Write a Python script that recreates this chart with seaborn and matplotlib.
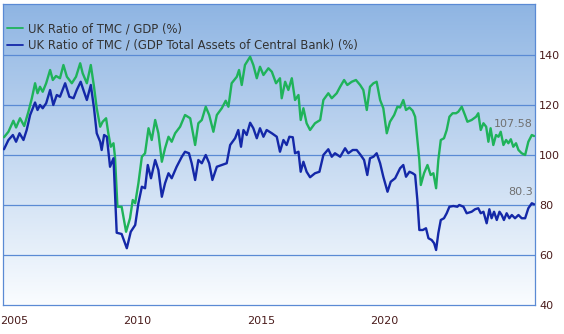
import numpy as np
import pandas as pd
import matplotlib
matplotlib.use("Agg")
import matplotlib.pyplot as plt
import seaborn as sns

# ---- data ----
green_year = [2004.59, 2004.77, 2004.97, 2005.08, 2005.24, 2005.41, 2005.58, 2005.72, 2005.85, 2005.95,
              2006.05, 2006.16, 2006.30, 2006.46, 2006.57, 2006.70, 2006.86, 2007.00, 2007.14, 2007.34,
              2007.51, 2007.68, 2007.78, 2007.95, 2008.11, 2008.24, 2008.35, 2008.49, 2008.59, 2008.73,
              2008.82, 2008.92, 2009.03, 2009.09, 2009.19, 2009.36, 2009.54, 2009.70, 2009.81, 2009.91,
              2010.04, 2010.18, 2010.31, 2010.45, 2010.58, 2010.72, 2010.85, 2010.99, 2011.12, 2011.26,
              2011.39, 2011.53, 2011.73, 2011.93, 2012.14, 2012.34, 2012.47, 2012.61, 2012.77, 2012.91,
              2013.08, 2013.22, 2013.42, 2013.58, 2013.69, 2013.82, 2014.03, 2014.12, 2014.23, 2014.36,
              2014.57, 2014.70, 2014.84, 2014.97, 2015.11, 2015.31, 2015.45, 2015.62, 2015.78, 2015.85,
              2015.99, 2016.12, 2016.26, 2016.39, 2016.53, 2016.62, 2016.73, 2016.86, 2017.00, 2017.20,
              2017.41, 2017.54, 2017.74, 2017.88, 2018.08, 2018.22, 2018.38, 2018.51, 2018.69, 2018.86,
              2019.03, 2019.16, 2019.30, 2019.43, 2019.57, 2019.70, 2019.84, 2019.97, 2020.11, 2020.24,
              2020.41, 2020.54, 2020.65, 2020.78, 2020.89, 2021.03, 2021.16, 2021.26, 2021.35, 2021.43,
              2021.49, 2021.62, 2021.76, 2021.89, 2022.00, 2022.11, 2022.20, 2022.30, 2022.43, 2022.54,
              2022.65, 2022.78, 2022.92, 2023.01, 2023.15, 2023.28, 2023.38, 2023.55, 2023.73, 2023.82,
              2023.92, 2024.03, 2024.14, 2024.23, 2024.32, 2024.43, 2024.54, 2024.64, 2024.73, 2024.84,
              2024.95, 2025.04, 2025.14, 2025.24, 2025.35, 2025.45, 2025.58, 2025.72, 2025.85, 2025.99,
              2026.08]
green_val = [107.1, 109.3, 113.7, 111.0, 114.7, 111.6, 117.3, 122.7, 128.7, 124.7,
             127.3, 125.3, 128.7, 134.0, 130.0, 131.6, 130.7, 136.0, 131.3, 128.7,
             131.3, 136.7, 132.7, 128.7, 136.0, 127.3, 118.7, 111.3, 113.3, 114.7,
             108.7, 103.3, 104.7, 99.3, 79.3, 79.3, 69.3, 74.7, 82.0, 80.7,
             88.7, 99.3, 100.7, 110.7, 106.0, 114.0, 108.7, 97.3, 102.7, 107.3,
             105.3, 108.7, 111.3, 116.0, 114.7, 104.0, 112.7, 114.0, 119.3, 116.0,
             109.3, 116.0, 118.7, 121.7, 119.3, 128.7, 131.3, 134.0, 128.0, 136.0,
             139.3, 136.0, 130.7, 135.3, 132.0, 134.7, 133.3, 128.7, 130.7, 122.7,
             129.3, 126.0, 130.7, 122.0, 124.0, 114.0, 118.7, 112.7, 110.0, 112.7,
             114.0, 122.0, 124.7, 122.7, 124.7, 127.3, 130.0, 128.0, 129.3, 130.0,
             128.0, 126.0, 118.0, 127.3, 128.7, 129.3, 122.0, 118.7, 108.7, 113.3,
             116.0, 119.3, 119.0, 122.0, 118.0, 119.0, 117.7, 115.3, 106.0, 98.0,
             88.0, 92.7, 96.0, 92.0, 92.7, 86.7, 98.0, 106.0, 106.7, 110.0,
             115.3, 116.7, 116.7, 117.3, 119.3, 116.0, 113.3, 114.0, 115.3, 116.7,
             110.0, 112.7, 111.3, 105.3, 110.7, 104.0, 108.0, 107.3, 109.3, 104.0,
             106.0, 104.7, 106.3, 103.3, 104.7, 102.0, 100.7, 100.0, 105.3, 108.0,
             107.58]

blue_year = [2004.59, 2004.77, 2004.95, 2005.08, 2005.22, 2005.38, 2005.51, 2005.65, 2005.85, 2005.95,
             2006.05, 2006.16, 2006.30, 2006.46, 2006.59, 2006.73, 2006.86, 2007.07, 2007.24, 2007.41,
             2007.54, 2007.70, 2007.81, 2007.95, 2008.11, 2008.24, 2008.35, 2008.49, 2008.55, 2008.65,
             2008.76, 2008.89, 2009.03, 2009.16, 2009.36, 2009.57, 2009.73, 2009.91, 2010.04, 2010.18,
             2010.31, 2010.42, 2010.55, 2010.72, 2010.85, 2010.99, 2011.12, 2011.26, 2011.39, 2011.59,
             2011.80, 2011.93, 2012.09, 2012.20, 2012.34, 2012.47, 2012.61, 2012.77, 2012.91, 2013.04,
             2013.22, 2013.42, 2013.62, 2013.76, 2013.96, 2014.09, 2014.20, 2014.30, 2014.43, 2014.57,
             2014.70, 2014.84, 2014.97, 2015.11, 2015.24, 2015.45, 2015.65, 2015.78, 2015.92, 2016.05,
             2016.16, 2016.30, 2016.39, 2016.53, 2016.62, 2016.73, 2016.86, 2017.00, 2017.20, 2017.38,
             2017.54, 2017.74, 2017.88, 2018.01, 2018.22, 2018.42, 2018.55, 2018.73, 2018.89, 2019.05,
             2019.19, 2019.32, 2019.43, 2019.57, 2019.70, 2019.84, 2019.97, 2020.14, 2020.27, 2020.45,
             2020.58, 2020.65, 2020.78, 2020.89, 2021.03, 2021.16, 2021.26, 2021.35, 2021.43, 2021.57,
             2021.70, 2021.80, 2021.93, 2022.03, 2022.11, 2022.20, 2022.30, 2022.43, 2022.54, 2022.65,
             2022.81, 2022.97, 2023.05, 2023.22, 2023.35, 2023.55, 2023.69, 2023.82, 2023.92, 2024.03,
             2024.16, 2024.27, 2024.36, 2024.46, 2024.57, 2024.68, 2024.77, 2024.86, 2024.97, 2025.08,
             2025.18, 2025.31, 2025.45, 2025.58, 2025.72, 2025.85, 2025.99, 2026.08]
blue_val = [102.3, 106.0, 108.0, 105.3, 108.7, 106.0, 110.0, 116.0, 121.0, 118.0,
            120.0, 118.7, 120.7, 126.0, 120.0, 124.0, 123.3, 128.7, 123.3, 122.7,
            126.0, 129.3, 126.0, 122.0, 128.0, 118.7, 108.7, 105.3, 102.0, 108.0,
            107.3, 95.3, 98.7, 68.9, 68.4, 62.7, 69.3, 72.0, 80.7, 87.3,
            86.7, 96.0, 90.7, 98.0, 94.0, 83.3, 88.7, 92.7, 90.7, 95.3,
            99.3, 101.3, 100.7, 96.7, 90.0, 98.0, 96.7, 100.0, 96.7, 90.0,
            95.3, 96.0, 96.7, 104.0, 106.7, 110.0, 103.3, 110.0, 108.0, 112.9,
            110.7, 106.7, 110.7, 107.3, 110.0, 108.7, 107.3, 101.3, 106.0, 104.0,
            107.3, 107.1, 100.7, 101.3, 93.3, 97.3, 93.3, 91.1, 92.7, 93.3,
            100.0, 102.3, 99.3, 100.7, 99.3, 102.7, 100.7, 102.0, 102.0, 100.0,
            98.0, 92.0, 98.7, 99.3, 100.7, 96.7, 91.3, 85.3, 89.3, 90.7,
            93.3, 94.7, 96.0, 91.3, 93.3, 92.7, 92.0, 82.0, 70.0, 70.0,
            70.7, 66.7, 66.0, 64.7, 62.0, 68.7, 74.0, 74.7, 76.7, 79.3,
            79.6, 79.3, 80.0, 79.3, 76.7, 77.3, 78.3, 78.7, 76.7, 77.3,
            72.7, 78.3, 74.7, 77.3, 74.0, 77.3, 76.0, 74.0, 76.7, 74.7,
            76.0, 74.7, 76.0, 74.7, 74.7, 78.7, 80.7, 80.3]

green_label = "UK Ratio of TMC / GDP (%)"
blue_label = "UK Ratio of TMC / (GDP Total Assets of Central Bank) (%)"
x_ticks = [2005, 2010, 2015, 2020]
y_ticks = [40, 60, 80, 100, 120, 140]

GREEN = "#1fb35a"
BLUE = "#1428a8"
GRID = "#5a8ad4"
LABEL = "#4a1c1c"

sns.set_style("white")
plt.rcParams["font.family"] = ["DejaVu Sans"]

fig = plt.figure(figsize=(5.64, 3.34), dpi=100)
ax = fig.add_axes([3 / 564, 1 - 305 / 334, 532 / 564, 301 / 334])

# gradient background
grad = np.linspace(0, 1, 256).reshape(-1, 1)
top = np.array([0.56, 0.71, 0.89])
bot = np.array([0.98, 0.99, 1.0])
img = top[None, None, :] * (1 - grad[..., None]) + bot[None, None, :] * grad[..., None]
ax.imshow(img, extent=[0, 1, 0, 1], transform=ax.transAxes, aspect="auto", zorder=0)

gdf = pd.DataFrame({"year": green_year, "value": green_val})
bdf = pd.DataFrame({"year": blue_year, "value": blue_val})
sns.lineplot(data=gdf, x="year", y="value", ax=ax, color=GREEN, lw=1.7, label=green_label, zorder=3)
sns.lineplot(data=bdf, x="year", y="value", ax=ax, color=BLUE, lw=1.7, label=blue_label, zorder=3)

ax.set_xlim(2004.55, 2026.12)
ax.set_ylim(40, 160.4)
ax.set_xlabel("")
ax.set_ylabel("")

for v in [60, 80, 100, 120, 140]:
    ax.axhline(v, color=GRID, lw=0.9, zorder=1)

ax.set_xticks(x_ticks)
ax.set_xticklabels([str(t) for t in x_ticks])
ax.yaxis.tick_right()
ax.set_yticks(y_ticks)
ax.set_yticklabels([str(t) for t in y_ticks])
ax.tick_params(axis="x", direction="out", length=7, width=0.9, color=GRID,
               labelcolor=LABEL, labelsize=8, pad=1)
ax.tick_params(axis="y", length=0, labelcolor=LABEL, labelsize=8, pad=3)

for s in ax.spines.values():
    s.set_color(GRID)
    s.set_linewidth(0.9)

leg = ax.legend(loc="upper left", bbox_to_anchor=(0.007, 0.94), frameon=False,
                fontsize=8.4, handlelength=1.4, handletextpad=0.45, labelspacing=0.33,
                borderaxespad=0, borderpad=0)
for t in leg.get_texts():
    t.set_color("#333333")
for h in leg.get_lines():
    h.set_linewidth(1.3)

# last-value annotations
ax.annotate(f"{green_val[-1]:g}", xy=(green_year[-1], green_val[-1]), xytext=(-1, 9),
            textcoords="offset points", ha="right", va="center", fontsize=8, color="#707070", zorder=4)
ax.annotate(f"{blue_val[-1]:g}", xy=(blue_year[-1], blue_val[-1]), xytext=(-1, 9),
            textcoords="offset points", ha="right", va="center", fontsize=8, color="#707070", zorder=4)

fig.savefig("out.png", dpi=100)
